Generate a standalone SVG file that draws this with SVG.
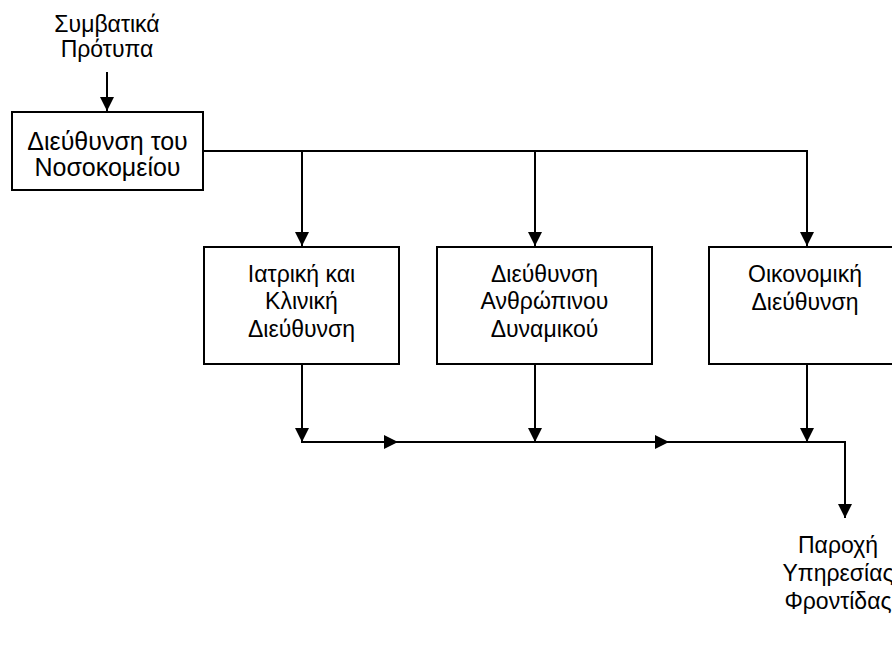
<svg xmlns="http://www.w3.org/2000/svg" width="892" height="655" viewBox="0 0 892 655">
<defs>
<marker id="ah" markerWidth="14" markerHeight="14" refX="14" refY="7" orient="auto" markerUnits="userSpaceOnUse">
<path d="M0,0 L14,7 L0,14 Z" fill="#000"/>
</marker>
<style>
.box{fill:#fff;stroke:#000;stroke-width:2}
.t{font-family:"Liberation Sans",Arial,sans-serif;font-size:23px;fill:#000;text-anchor:middle}
.big{font-size:25px}
.ln{fill:none;stroke:#000;stroke-width:2}
</style>
</defs>
<rect width="892" height="655" fill="#fff"/>
<g id="n_standards">
<text class="t" x="107" y="32">Συμβατικά</text>
<text class="t" x="107" y="57">Πρότυπα</text>
</g>
<g id="n_hospital">
<rect class="box" x="12" y="112" width="191" height="78"/>
<text class="t big" x="107.5" y="150">Διεύθυνση του</text>
<text class="t big" x="107.5" y="176">Νοσοκομείου</text>
</g>
<g id="n_medical">
<rect class="box" x="204" y="247" width="195" height="117"/>
<text class="t" x="301.5" y="282">Ιατρική και</text>
<text class="t" x="301.5" y="309">Κλινική</text>
<text class="t" x="301.5" y="337">Διεύθυνση</text>
</g>
<g id="n_hr">
<rect class="box" x="437" y="247" width="215" height="117"/>
<text class="t" x="544.5" y="282">Διεύθυνση</text>
<text class="t" x="544.5" y="309">Ανθρώπινου</text>
<text class="t" x="544.5" y="337">Δυναμικού</text>
</g>
<g id="n_finance">
<rect class="box" x="709" y="247" width="200" height="117"/>
<text class="t" x="805" y="282">Οικονομική</text>
<text class="t" x="805" y="310">Διεύθυνση</text>
</g>
<g id="n_care">
<rect x="747" y="522" width="150" height="140" fill="#fff"/>
<text class="t" x="838" y="553">Παροχή</text>
<text class="t" x="838" y="581">Υπηρεσίας</text>
<text class="t" x="838" y="609">Φροντίδας</text>
</g>
<g id="connectors">
<line class="ln" x1="107" y1="72" x2="107" y2="111" marker-end="url(#ah)"/>
<polyline class="ln" points="203,151 807,151"/>
<line class="ln" x1="302" y1="151" x2="302" y2="246" marker-end="url(#ah)"/>
<line class="ln" x1="535" y1="151" x2="535" y2="246" marker-end="url(#ah)"/>
<line class="ln" x1="807" y1="150" x2="807" y2="246" marker-end="url(#ah)"/>
<line class="ln" x1="302" y1="364" x2="302" y2="442" marker-end="url(#ah)"/>
<line class="ln" x1="535" y1="364" x2="535" y2="442" marker-end="url(#ah)"/>
<line class="ln" x1="807" y1="364" x2="807" y2="442" marker-end="url(#ah)"/>
<line class="ln" x1="301" y1="442" x2="398" y2="442" marker-end="url(#ah)"/>
<line class="ln" x1="397" y1="442" x2="669" y2="442" marker-end="url(#ah)"/>
<polyline class="ln" points="668,442 845,442 845,518" marker-end="url(#ah)"/>
</g>
</svg>
